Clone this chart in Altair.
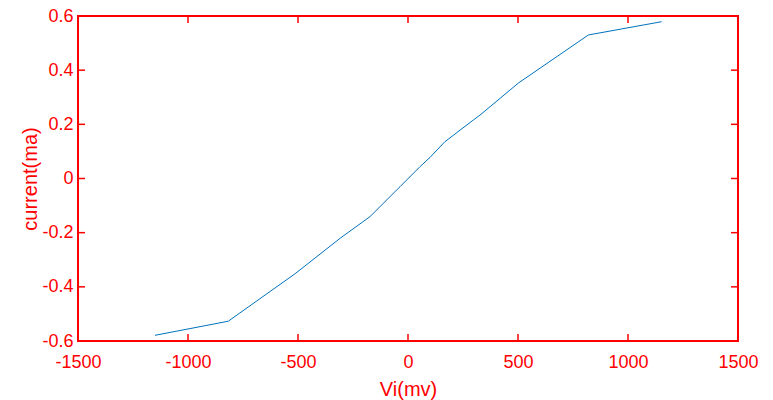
import altair as alt
import pandas as pd

# Data
vi = [-1150, -817, -514, -309, -173, -67, -36, 55, 100, 168, 297, 327, 501, 820, 1153]
current = [-0.579, -0.527, -0.352, -0.221, -0.141, -0.055, -0.030, 0.044, 0.078, 0.136, 0.216, 0.234, 0.352, 0.530, 0.579]

x_ticks = [-1500, -1000, -500, 0, 500, 1000, 1500]
y_ticks = [-0.6, -0.4, -0.2, 0, 0.2, 0.4, 0.6]
x_inner = [-1000, -500, 0, 500, 1000]
y_inner = [-0.4, -0.2, 0, 0.2, 0.4]

RED = "#FF0000"
FONT = "Liberation Sans"
W, H = 660, 325
TL = 7

df = pd.DataFrame({"vi": vi, "current": current})
xt = pd.DataFrame({"v": x_inner})
yt = pd.DataFrame({"v": y_inner})

xscale = alt.Scale(domain=[-1500, 1500], nice=False, zero=False)
yscale = alt.Scale(domain=[-0.6, 0.6], nice=False, zero=False)

xaxis = alt.Axis(
    values=x_ticks, ticks=False, tickSize=0, domain=False, grid=False,
    labelColor=RED, labelFont=FONT, labelFontSize=18, labelPadding=12,
    labelExpr="'' + datum.value",
    title="Vi(mv)", titleColor=RED, titleFont=FONT, titleFontSize=20,
    titleFontWeight="normal", titleY=54, titleX=W / 2, titleBaseline="alphabetic",
    labelFlush=False, labelOverlap=False,
)
yaxis = alt.Axis(
    values=y_ticks, ticks=False, tickSize=0, domain=False, grid=False,
    labelColor=RED, labelFont=FONT, labelFontSize=18, labelPadding=5,
    labelExpr="'' + datum.value",
    title="current(ma)", titleColor=RED, titleFont=FONT, titleFontSize=20,
    titleFontWeight="normal", titleX=-41.5, titleY=H / 2, titleBaseline="alphabetic",
    titleAngle=-90, labelFlush=False, labelOverlap=False,
)

line = alt.Chart(df).mark_line(color="#0072BD", strokeWidth=1).encode(
    x=alt.X("vi:Q", scale=xscale, axis=xaxis),
    y=alt.Y("current:Q", scale=yscale, axis=yaxis),
)

bottom_ticks = alt.Chart(xt).mark_rule(color=RED, strokeWidth=1.5).encode(
    x=alt.X("v:Q", scale=xscale), y=alt.value(H), y2=alt.value(H - TL)
)
top_ticks = alt.Chart(xt).mark_rule(color=RED, strokeWidth=1.5).encode(
    x=alt.X("v:Q", scale=xscale), y=alt.value(0), y2=alt.value(TL)
)
left_ticks = alt.Chart(yt).mark_rule(color=RED, strokeWidth=1.5).encode(
    y=alt.Y("v:Q", scale=yscale), x=alt.value(0), x2=alt.value(TL)
)
right_ticks = alt.Chart(yt).mark_rule(color=RED, strokeWidth=1.5).encode(
    y=alt.Y("v:Q", scale=yscale), x=alt.value(W), x2=alt.value(W - TL)
)

chart = alt.layer(line, bottom_ticks, top_ticks, left_ticks, right_ticks).properties(
    width=W, height=H,
    autosize=alt.AutoSizeParams(type="none"),
    padding={"left": 78, "top": 16, "right": 35, "bottom": 59},
    background="white",
).configure_view(stroke=RED, strokeWidth=2)

chart.save("out.html", embed_options={"renderer": "svg", "actions": False})
